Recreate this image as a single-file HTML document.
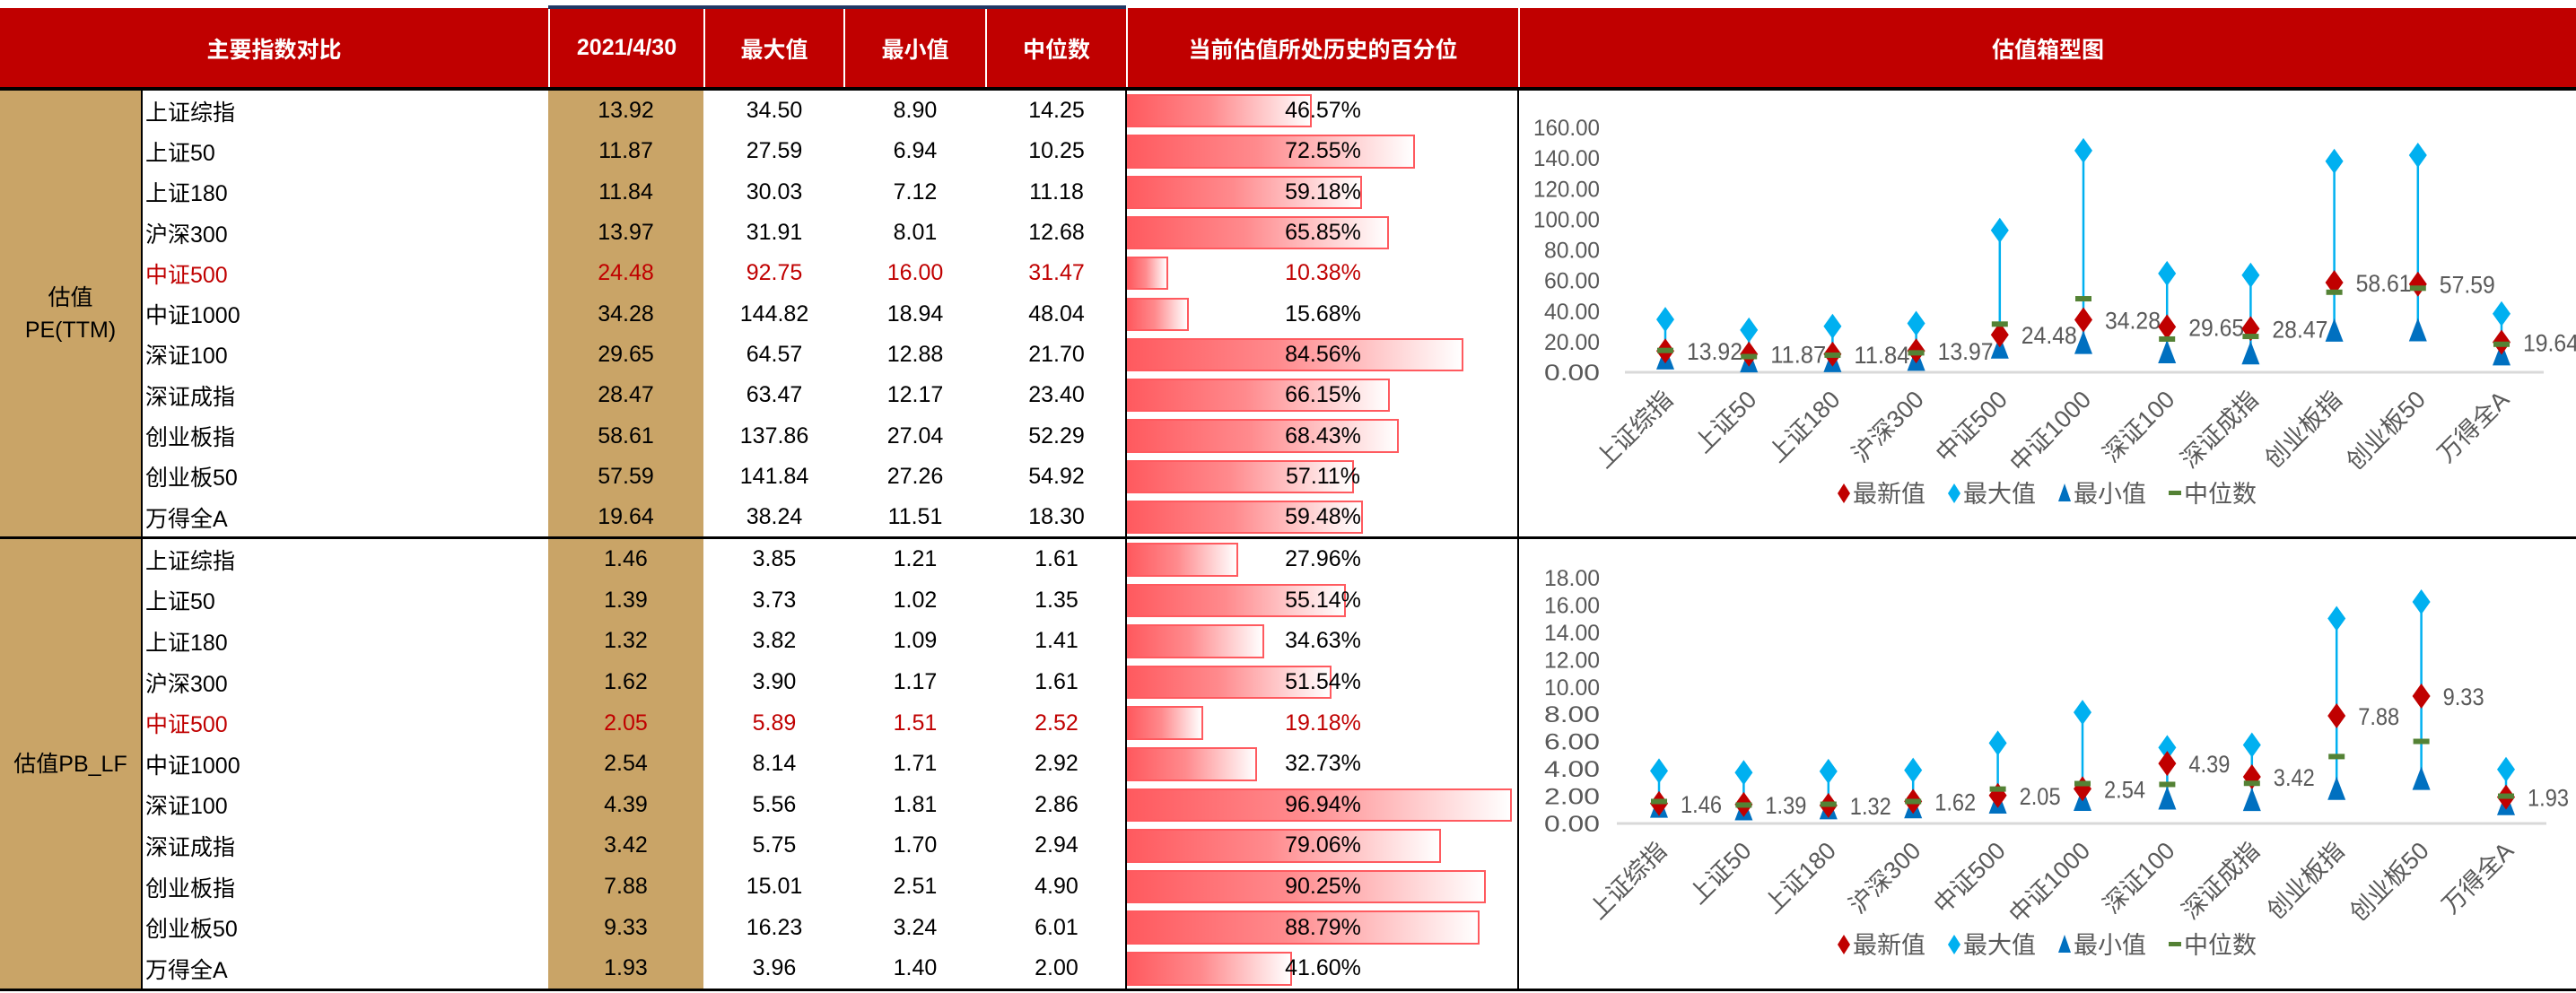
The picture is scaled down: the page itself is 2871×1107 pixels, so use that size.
<!DOCTYPE html>
<html><head><meta charset="utf-8">
<style>
html,body{margin:0;padding:0;background:#fff;}
body{width:2871px;height:1107px;position:relative;overflow:hidden;font-family:"Liberation Sans","Noto Sans CJK SC",sans-serif;}
.a{position:absolute;box-sizing:border-box;}
.hd{background:#c00000;color:#fff;font-weight:bold;font-size:25px;display:flex;align-items:center;justify-content:center;}
.c{display:flex;align-items:center;justify-content:center;font-size:25px;color:#000;}
.bar{position:absolute;border:2px solid #ff5a5f;background:linear-gradient(to right,#ff5a5f 0%,#ff8a8d 45%,#fff 100%);box-sizing:border-box;}
</style></head>
<body>
<div id="root"></div>
<script>
const names=["上证综指","上证50","上证180","沪深300","中证500","中证1000","深证100","深证成指","创业板指","创业板50","万得全A"];
const peCur=[13.92,11.87,11.84,13.97,24.48,34.28,29.65,28.47,58.61,57.59,19.64];
const peMax=[34.50,27.59,30.03,31.91,92.75,144.82,64.57,63.47,137.86,141.84,38.24];
const peMin=[8.90,6.94,7.12,8.01,16.00,18.94,12.88,12.17,27.04,27.26,11.51];
const peMed=[14.25,10.25,11.18,12.68,31.47,48.04,21.70,23.40,52.29,54.92,18.30];
const pePct=[46.57,72.55,59.18,65.85,10.38,15.68,84.56,66.15,68.43,57.11,59.48];
const pbCur=[1.46,1.39,1.32,1.62,2.05,2.54,4.39,3.42,7.88,9.33,1.93];
const pbMax=[3.85,3.73,3.82,3.90,5.89,8.14,5.56,5.75,15.01,16.23,3.96];
const pbMin=[1.21,1.02,1.09,1.17,1.51,1.71,1.81,1.70,2.51,3.24,1.40];
const pbMed=[1.61,1.35,1.41,1.61,2.52,2.92,2.86,2.94,4.90,6.01,2.00];
const pbPct=[27.96,55.14,34.63,51.54,19.18,32.73,96.94,79.06,90.25,88.79,41.60];
const peTicks=[0,20,40,60,80,100,120,140,160];
const pbTicks=[0,2,4,6,8,10,12,14,16,18];

const root=document.getElementById('root');
function div(cls,x,y,w,h,txt,name,style){
  const d=document.createElement('div');
  d.className='a '+cls;
  d.style.left=x+'px';d.style.top=y+'px';d.style.width=w+'px';d.style.height=h+'px';
  if(style) d.style.cssText+=style;
  if(txt!==null) d.textContent=txt;
  
  
  root.appendChild(d);return d;
}
div('hd',0,9,611,89,'主要指数对比','header-index-compare');
div('hd',613,9,171,89,'2021/4/30','header-date');
div('hd',786,9,154,89,'最大值','header-max');
div('hd',942,9,156,89,'最小值','header-min');
div('hd',1100,9,155,89,'中位数','header-median');
div('hd',1257,9,435,89,'当前估值所处历史的百分位','header-percentile');
div('hd',1694,9,1177,89,'估值箱型图','header-boxplot');
div('',611,6,644,4,null,'header-top-line','background:#1f3864;');
div('',0,97,2871,4,null,'header-bottom-line','background:#000;');

function section(y0,rh,label,cur,mx,mn,md,pct,prefix){
  const H=rh*11;
  div('c',0,y0,157,H,null,prefix+'-section-label','background:#c9a467;flex-direction:column;line-height:36px;').innerHTML=label;
  div('',611,y0,173,H,null,prefix+'-date-col-bg','background:#c9a467;');
  div('',157,y0,2,H,null,prefix+'-name-border','background:#000;');
  div('',1254,y0,2,H,null,prefix+'-pct-border','background:#000;');
  div('',1691,y0,2,H,null,prefix+'-chart-border','background:#000;');
  for(let i=0;i<11;i++){
    const y=y0+i*rh;
    const red=(i===4)?'color:#c00000;':'';
    div('c',162,y,440,rh,names[i],prefix+'-name-'+i,'justify-content:flex-start;'+red);
    div('c',611,y,173,rh,cur[i].toFixed(2),prefix+'-current-'+i,red);
    div('c',786,y,154,rh,mx[i].toFixed(2),prefix+'-max-'+i,red);
    div('c',942,y,156,rh,mn[i].toFixed(2),prefix+'-min-'+i,red);
    div('c',1100,y,155,rh,md[i].toFixed(2),prefix+'-median-'+i,red);
    div('bar',1256,y+4,pct[i]/100*443,rh-8,null,prefix+'-pct-bar-'+i);
    div('c',1257,y,435,rh,pct[i].toFixed(2)+'%',prefix+'-pct-text-'+i,red);
  }
}
section(101,45.3,'<span>估值</span><span>PE(TTM)</span>',peCur,peMax,peMin,peMed,pePct,'pe');
div('',0,598,2871,3,null,'section-divider','background:#000;');
section(601,45.6,'<span>估值PB_LF</span>',pbCur,pbMax,pbMin,pbMed,pbPct,'pb');
div('',0,1102,2871,3,null,'bottom-line','background:#000;');

const NS='http://www.w3.org/2000/svg';
const svg=document.createElementNS(NS,'svg');
svg.setAttribute('width','2871');svg.setAttribute('height','1107');
svg.style.position='absolute';svg.style.left='0';svg.style.top='0';


root.appendChild(svg);
function el(tag,attrs,name,parent){
  const e=document.createElementNS(NS,tag);
  for(const k in attrs) e.setAttribute(k,attrs[k]);
  
  
  (parent||svg).appendChild(e);return e;
}
function chart(cfg){
  const {cur,mx,mn,md,ticks,y0,yTop,vmax,ax0,ax1,cx0,cx1,legY,prefix,lab}=cfg;
  const g=el('g',{},prefix+'-chart');
  const ys=v=>y0-(v/vmax)*(y0-yTop);
  const xs=i=>cx0+i*(cx1-cx0)/10;
  ticks.forEach(t=>{
    const tx=el('text',{x:1783,y:ys(t)+9,'text-anchor':'end','font-size':25,fill:'#595959','textLength':t>=100?74:62,'lengthAdjust':'spacingAndGlyphs'},prefix+'-y-tick',g);
    tx.textContent=t.toFixed(2);
  });
  el('line',{x1:ax0,x2:ax1,y1:y0,y2:y0,stroke:'#d9d9d9','stroke-width':3},prefix+'-x-axis',g);
  names.forEach((n,i)=>{
    const x=xs(i);
    const t=el('text',{x:x+10,y:y0+32,'text-anchor':'end','font-size':lab,fill:'#595959',transform:`rotate(-45 ${x+10} ${y0+32})`},prefix+'-x-label',g);
    t.textContent=n;
    el('line',{x1:x,x2:x,y1:ys(mn[i]),y2:ys(mx[i]),stroke:'#00b0f0','stroke-width':2.5},prefix+'-range-line',g);
    const ymx=ys(mx[i]);
    el('polygon',{points:`${x},${ymx-14} ${x+10},${ymx} ${x},${ymx+14} ${x-10},${ymx}`,fill:'#00b0f0'},prefix+'-max-marker',g);
    const ymn=ys(mn[i]);
    el('polygon',{points:`${x},${ymn-14} ${x+10},${ymn+12} ${x-10},${ymn+12}`,fill:'#0070c0'},prefix+'-min-marker',g);
    const yc=ys(cur[i]);
    el('polygon',{points:`${x},${yc-14} ${x+10},${yc} ${x},${yc+14} ${x-10},${yc}`,fill:'#c00000'},prefix+'-latest-marker',g);
    const ym=ys(md[i]);
    el('rect',{x:x-9,y:ym-3,width:18,height:6,fill:'#548235'},prefix+'-median-marker',g);
    const lt=el('text',{x:x+24,y:yc+10,'font-size':27,fill:'#595959','textLength':cur[i]>=10?62:46,'lengthAdjust':'spacingAndGlyphs'},prefix+'-value-label',g);
    lt.textContent=cur[i].toFixed(2);
  });
  const L=[['最新值','#c00000','d'],['最大值','#00b0f0','d'],['最小值','#0070c0','t'],['中位数','#548235','r']];
  L.forEach((it,k)=>{
    const x=2055+k*123;
    if(it[2]==='d') el('polygon',{points:`${x},${legY-11} ${x+7},${legY} ${x},${legY+11} ${x-7},${legY}`,fill:it[1]},prefix+'-legend-marker',g);
    else if(it[2]==='t') el('polygon',{points:`${x},${legY-11} ${x+7},${legY+9} ${x-7},${legY+9}`,fill:it[1]},prefix+'-legend-marker',g);
    else el('rect',{x:x-7,y:legY-3,width:14,height:5,fill:it[1]},prefix+'-legend-marker',g);
    const t=el('text',{x:x+10,y:legY+10,'font-size':27,fill:'#595959'},prefix+'-legend-entry',g);
    t.textContent=it[0];
  });
}
chart({cur:peCur,mx:peMax,mn:peMin,md:peMed,ticks:peTicks,y0:415,yTop:142,vmax:160,ax0:1811,ax1:2835,cx0:1856,cx1:2788,legY:550,prefix:'pe',lab:27});
chart({cur:pbCur,mx:pbMax,mn:pbMin,md:pbMed,ticks:pbTicks,y0:918,yTop:644,vmax:18,ax0:1802,ax1:2838,cx0:1849,cx1:2793,legY:1053,prefix:'pb',lab:27});
</script>
</body></html>
